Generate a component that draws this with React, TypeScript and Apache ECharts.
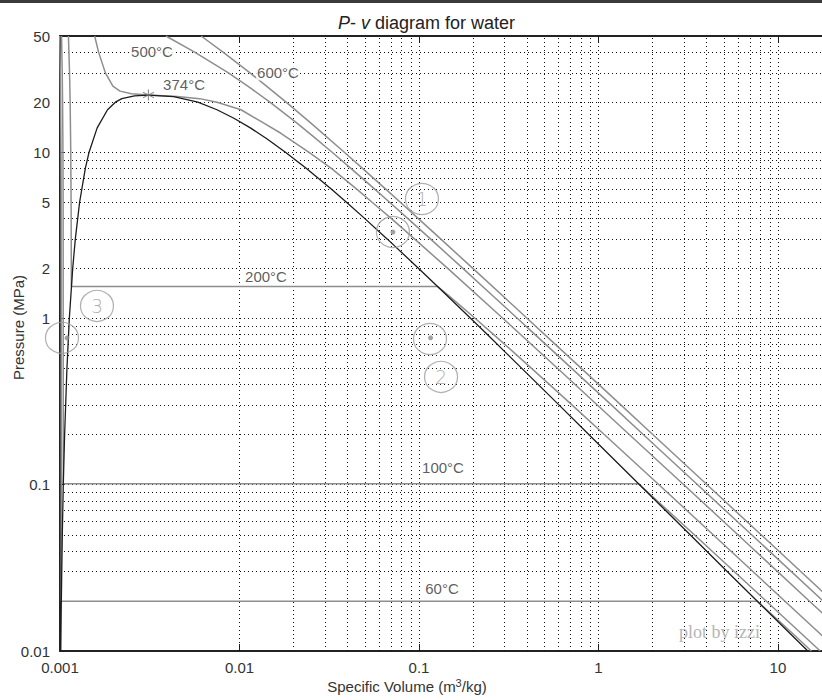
import React, { useEffect, useRef } from "react";
import * as echarts from "echarts";

// ---------- data: [specific volume m3/kg, pressure MPa] ----------
const saturationDome: [number, number][] = [
  [0.00101, 0.01], [0.001017, 0.02], [0.00103, 0.05], [0.001043, 0.1], [0.001061, 0.2],
  [0.001093, 0.5], [0.001127, 1.0], [0.001177, 2.0], [0.001217, 3.0], [0.001286, 5.0],
  [0.001384, 8.0], [0.001452, 10.0], [0.001611, 14.0], [0.00184, 18.0], [0.002035, 20.0],
  [0.00221, 21.0], [0.0026, 21.8], [0.00311, 22.06], [0.0043, 21.6], [0.005862, 20.0],
  [0.007489, 18.0], [0.009308, 16.0], [0.011495, 14.0], [0.014264, 12.0], [0.018028, 10.0],
  [0.023525, 8.0], [0.032449, 6.0], [0.039448, 5.0], [0.049779, 4.0], [0.066664, 3.0],
  [0.099585, 2.0], [0.13171, 1.5], [0.19436, 1.0], [0.2404, 0.8], [0.3156, 0.6],
  [0.46242, 0.4], [0.60582, 0.3], [0.88578, 0.2], [1.1594, 0.15], [1.6941, 0.1],
  [2.2172, 0.075], [3.2403, 0.05], [5.2287, 0.03], [7.6481, 0.02], [10.02, 0.015], [14.67, 0.01],
];

const isotherm60: [number, number][] = [
  [0.000996, 50], [0.0010042, 30], [0.0010084, 20], [0.0010127, 10], [0.0010149, 5],
  [0.0010171, 0.01994], [7.667, 0.01994], [10.0, 0.01536], [12.5, 0.0123], [15.336, 0.01],
];

const isotherm100: [number, number][] = [
  [0.0010201, 50], [0.001029, 30], [0.0010337, 20], [0.0010385, 10], [0.001041, 5],
  [0.001043, 0.10142], [1.672, 0.10142], [3.4187, 0.05], [8.59, 0.02], [17.196, 0.01],
];

const isotherm200: [number, number][] = [
  [0.0011142, 50], [0.0011302, 30], [0.001139, 20], [0.001148, 10], [0.001153, 5],
  [0.001157, 1.5549], [0.12721, 1.5549], [0.14302, 1.4], [0.1693, 1.2], [0.20596, 1.0],
  [0.2608, 0.8], [0.35202, 0.6], [0.53422, 0.4], [0.71629, 0.3], [1.08049, 0.2],
  [2.17226, 0.1], [4.356, 0.05], [10.898, 0.02], [21.825, 0.01],
];

const isotherm374: [number, number][] = [
  [0.00156, 50], [0.00164, 40], [0.00179, 30], [0.00197, 25], [0.00216, 23.3],
  [0.0025, 22.5], [0.00311, 22.06], [0.0045, 21.6], [0.006, 21.0], [0.0075, 20.0],
  [0.0102, 18.0], [0.0136, 15.0], [0.017, 13.0], [0.0243, 10.0], [0.0325, 8.0],
  [0.045, 6.0], [0.0548, 5.0], [0.07, 4.0], [0.0947, 3.0], [0.1446, 2.0],
  [0.2941, 1.0], [0.593, 0.5], [1.489, 0.2], [2.988, 0.1], [5.98, 0.05],
  [14.94, 0.02], [29.9, 0.01],
];

const isotherm500: [number, number][] = [
  [0.00389, 50], [0.005623, 40], [0.008679, 30], [0.011123, 25], [0.014768, 20],
  [0.020828, 15], [0.02563, 12.5], [0.032811, 10], [0.04175, 8], [0.05667, 6],
  [0.06858, 5], [0.08644, 4], [0.1162, 3], [0.17568, 2], [0.2521, 1.4],
  [0.35411, 1.0], [0.44331, 0.8], [0.592, 0.6], [0.88931, 0.4], [1.18672, 0.3],
  [1.78139, 0.2], [3.56595, 0.1], [7.1338, 0.05], [17.84, 0.02], [35.679, 0.01],
];

const isotherm600: [number, number][] = [
  [0.006112, 50], [0.008094, 40], [0.011446, 30], [0.014137, 25], [0.018185, 20],
  [0.02491, 15], [0.03837, 10], [0.04845, 8], [0.06527, 6], [0.0787, 5],
  [0.09886, 4], [0.13248, 3], [0.19962, 2], [0.3339, 1.2], [0.40109, 1.0],
  [0.50186, 0.8], [0.66985, 0.6], [1.00558, 0.4], [1.34139, 0.3], [2.01297, 0.2],
  [4.02842, 0.1], [8.057, 0.05], [20.14, 0.02], [40.29, 0.01],
];

const isothermLabels: [string, number, number][] = [
  ["500°C", 0.003254, 40.1],
  ["600°C", 0.01638, 29.96],
  ["374°C", 0.004909, 25.4],
  ["200°C", 0.01405, 1.778],
  ["100°C", 0.1361, 0.1262],
  ["60°C", 0.1343, 0.02366],
];

const criticalPoint: [number, number] = [0.00311, 22.06];

// hand-drawn notes on the print
const circledNotes: [string, number, number][] = [
  ["1", 0.1039, 5.23],
  ["2", 0.1327, 0.445],
  ["3", 0.001607, 1.19],
  ["", 0.0716, 3.31],
  ["", 0.1152, 0.753],
  ["", 0.001026, 0.764],
];
const statePoints: [number, number][] = [
  [0.0716, 3.31],
  [0.116, 0.765],
  [0.001094, 0.764],
];

// axes
const xMin = 0.001;
const xMax = 20;
const yMin = 0.01;
const yMax = 50;
const gridMultipliers = [1, 2, 3, 4, 5, 6, 7, 8, 9];
const xGridDecades = [0.001, 0.01, 0.1, 1, 10];
const yGridDecades = [0.01, 0.1, 1, 10];
const yExtraLabels = [2, 5, 20];

const FONT = "'Liberation Sans', Arial, Helvetica, sans-serif";
const TEXT = "#333";

function gridValues(decades: number[], lo: number, hi: number) {
  const out: number[] = [];
  decades.forEach((d) =>
    gridMultipliers.forEach((m) => {
      const v = Number((m * d).toPrecision(6));
      if (v > lo * 1.0001 && v < hi * 0.9999) out.push(v);
    })
  );
  return out;
}

function fmt(v: number) {
  return String(Number(v.toPrecision(4)));
}

function isPow10(v: number) {
  const l = Math.log10(v);
  return Math.abs(l - Math.round(l)) < 1e-6;
}

export default function App() {
  const ref = useRef<HTMLDivElement>(null);

  useEffect(() => {
    document.body.style.margin = "0";
    if (!ref.current) return;
    const chart = echarts.init(ref.current, undefined, { renderer: "svg" });

    const xGrid = gridValues(xGridDecades, xMin, xMax);
    const yGrid = gridValues(yGridDecades, yMin, yMax);
    const dotted = { type: [1, 3] as any, color: "#111", width: 1 };

    const gridMarkData: any[] = [
      ...xGrid.map((v) => ({ xAxis: v })),
      ...yGrid.map((v) => {
        const labeled = yExtraLabels.indexOf(v) >= 0;
        return {
          yAxis: v,
          name: fmt(v),
          label: labeled
            ? {
                show: true,
                position: "start",
                distance: 10,
                formatter: "{b}",
                fontSize: 15,
                fontFamily: FONT,
                color: TEXT,
              }
            : { show: false },
        };
      }),
    ];

    const isoLine = (name: string, data: [number, number][]) => ({
      name,
      type: "line",
      data,
      showSymbol: false,
      symbol: "none",
      z: 3,
      lineStyle: { color: "#8e8e8e", width: 1.5 },
    });

    const option: any = {
      animation: false,
      backgroundColor: "#fff",
      title: {
        text: "{i|P}{n|- }{i|v}{n| diagram for water}",
        left: 333,
        top: 9,
        textStyle: {
          fontWeight: "normal",
          rich: {
            i: { fontStyle: "italic", fontWeight: "normal", fontSize: 18, fontFamily: FONT, color: "#222" },
            n: { fontWeight: "normal", fontSize: 18, fontFamily: FONT, color: "#222" },
          },
        },
      },
      graphic: [
        {
          type: "rect",
          shape: { x: 0, y: 0, width: 822, height: 3 },
          style: { fill: "#3a3a3a" },
          silent: true,
        },
        {
          type: "text",
          left: 679,
          top: 623,
          z: 10,
          style: {
            text: "plot by izzi",
            fontFamily: "'Liberation Serif', 'Times New Roman', serif",
            fontSize: 18,
            fill: "#b5b5b5",
          },
          silent: true,
        },
      ],
      grid: {
        left: 60,
        top: 36,
        right: -10,
        bottom: 49,
        containLabel: false,
        outerBoundsMode: "none",
      },
      xAxis: [
        {
          type: "log",
          logBase: 10,
          min: xMin,
          max: xMax,
          position: "bottom",
          name: "{a|Specific Volume (m}{s|3}{a|/kg)}",
          nameLocation: "middle",
          nameGap: 26,
          nameMoveOverlap: false,
          nameTextStyle: {
            padding: [0, 78, 0, 0],
            rich: {
              a: { fontSize: 15, fontFamily: FONT, color: TEXT, lineHeight: 18 },
              s: { fontSize: 11, fontFamily: FONT, color: TEXT, verticalAlign: "top", lineHeight: 12 },
            },
          },
          axisLine: { show: true, lineStyle: { color: "#222", width: 2 } },
          axisTick: { show: true, inside: true, length: 7, lineStyle: { color: "#222", width: 1 } },
          axisLabel: {
            margin: 9,
            fontSize: 15,
            fontFamily: FONT,
            color: TEXT,
            showMaxLabel: false,
            alignMinLabel: "center",
            formatter: (v: number) => (isPow10(v) ? fmt(v) : ""),
          },
          splitLine: { show: false },
        },
        {
          type: "log",
          logBase: 10,
          min: xMin,
          max: xMax,
          position: "top",
          gridIndex: 0,
          axisLine: { show: true, lineStyle: { color: "#222", width: 2 } },
          axisTick: { show: true, inside: true, length: 7, lineStyle: { color: "#222", width: 1 } },
          axisLabel: { show: false },
          splitLine: { show: false },
        },
      ],
      yAxis: [
        {
          type: "log",
          logBase: 10,
          min: yMin,
          max: yMax,
          name: "Pressure (MPa)",
          nameLocation: "middle",
          nameGap: 34,
          nameMoveOverlap: false,
          nameRotate: 90,
          nameTextStyle: { fontSize: 15, fontFamily: FONT, color: TEXT, padding: [0, 0, 0, 32] },
          axisLine: { show: true, lineStyle: { color: "#222", width: 2 } },
          axisTick: { show: true, inside: true, length: 4, lineStyle: { color: "#222", width: 1 } },
          axisLabel: {
            margin: 10,
            fontSize: 15,
            fontFamily: FONT,
            color: TEXT,
            formatter: (v: number) => fmt(v),
          },
          splitLine: { show: false },
        },
      ],
      series: [
        {
          name: "grid",
          type: "line",
          data: [],
          z: 1,
          silent: true,
          markLine: {
            silent: true,
            z: 1,
            symbol: ["none", "none"],
            label: { show: false },
            lineStyle: dotted,
            emphasis: { disabled: true },
            data: gridMarkData,
          },
        },
        isoLine("60°C", isotherm60),
        isoLine("100°C", isotherm100),
        isoLine("200°C", isotherm200),
        isoLine("374°C", isotherm374),
        isoLine("500°C", isotherm500),
        isoLine("600°C", isotherm600),
        {
          name: "saturation",
          type: "line",
          data: saturationDome,
          showSymbol: false,
          symbol: "none",
          z: 4,
          lineStyle: { color: "#1c1c1c", width: 1.3 },
        },
        {
          name: "critical point",
          type: "scatter",
          data: [criticalPoint],
          z: 5,
          symbol: "path://M5,0L5,10M0.7,2.5L9.3,7.5M0.7,7.5L9.3,2.5",
          symbolSize: 11,
          itemStyle: { color: "none", borderColor: "#777", borderWidth: 1.2 },
        },
        {
          name: "isotherm labels",
          type: "scatter",
          z: 6,
          symbolSize: 0,
          data: isothermLabels.map(([n, v, p]) => ({ name: n, value: [v, p] })),
          label: {
            show: true,
            position: "inside",
            formatter: "{b}",
            fontSize: 15,
            fontFamily: FONT,
            color: TEXT,
            backgroundColor: "#fff",
            padding: [0, 1],
          },
        },
        {
          name: "notes",
          type: "scatter",
          z: 7,
          symbol: "circle",
          symbolSize: [33, 31],
          data: circledNotes.map(([n, v, p]) => ({ name: n, value: [v, p] })),
          itemStyle: { color: "rgba(0,0,0,0)", borderColor: "#9c9c9c", borderWidth: 1.2 },
          label: {
            show: true,
            position: "inside",
            formatter: "{b}",
            fontSize: 19,
            fontFamily: "'DejaVu Sans', sans-serif",
            fontWeight: "lighter",
            color: "#9a9a9a",
          },
        },
        {
          name: "state points",
          type: "scatter",
          z: 8,
          symbolSize: 5,
          data: statePoints,
          itemStyle: { color: "#8a8a8a" },
        },
      ],
    };

    chart.setOption(option);
    return () => chart.dispose();
  }, []);

  return <div ref={ref} style={{ width: 822, height: 700 }} />;
}
